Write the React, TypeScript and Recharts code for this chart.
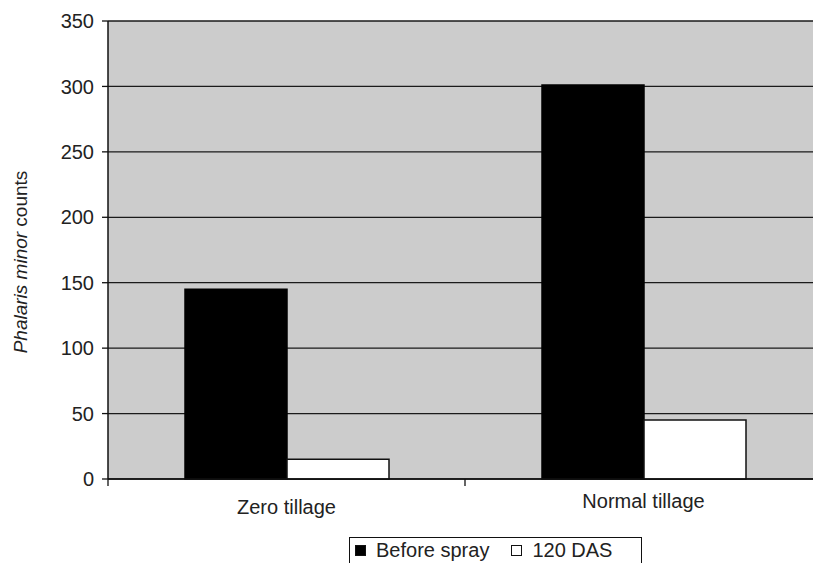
import { BarChart, Bar, XAxis, YAxis, CartesianGrid, Legend } from 'recharts';

const categories = ['Zero tillage', 'Normal tillage'];
const beforeSpray = [145, 301];
const das120 = [15, 45];
const yTicks = [0, 50, 100, 150, 200, 250, 300, 350];

const data = categories.map((name, i) => ({
  name,
  before: beforeSpray[i],
  das: das120[i],
}));

const FONT = '"Liberation Sans", Arial, sans-serif';

function CategoryTick(props: any) {
  const { x, y, payload, index } = props;
  const half = payload && payload.offset ? payload.offset : 0;
  // the original places the two labels at slightly different heights
  const labelY = y + (index === 0 ? 28 : 22);
  return (
    <g>
      <line x1={x - half} x2={x - half} y1={y} y2={y + 7} stroke="#111" strokeWidth={1.3} />
      <text
        x={x}
        y={labelY}
        textAnchor="middle"
        dominantBaseline="central"
        fontFamily={FONT}
        fontSize={20}
        fill="#222"
      >
        {payload.value}
      </text>
    </g>
  );
}

function YLabel(props: any) {
  const vb = props.viewBox || { x: 0, y: 0, width: 0, height: 0 };
  const cx = vb.x + 20;
  const cy = vb.y + vb.height / 2 + 12;
  return (
    <text
      x={cx}
      y={cy}
      transform={`rotate(-90, ${cx}, ${cy})`}
      textAnchor="middle"
      dominantBaseline="central"
      fontFamily={FONT}
      fontSize={19}
      fill="#222"
    >
      <tspan fontStyle="italic">Phalaris minor</tspan>
      <tspan> counts</tspan>
    </text>
  );
}

function LegendBox(props: any) {
  const { payload } = props;
  return (
    <div
      style={{
        border: '1.5px solid #111',
        padding: '1px 14px 8px 5px',
        display: 'flex',
        alignItems: 'center',
        fontFamily: FONT,
        fontSize: 20,
        lineHeight: '23px',
        color: '#222',
        background: '#fff',
        whiteSpace: 'nowrap',
        width: 293,
        boxSizing: 'border-box',
      }}
    >
      {(payload || []).map((entry: any, i: number) => (
        <span key={`leg-${i}`} style={{ display: 'flex', alignItems: 'center', marginRight: i === 0 ? 22 : 0 }}>
          <span
            style={{
              display: 'inline-block',
              flexShrink: 0,
              width: 11,
              height: 11,
              boxSizing: 'border-box',
              border: '1.3px solid #111',
              background: entry.color,
              marginRight: 10,
            }}
          />
          {entry.value}
        </span>
      ))}
    </div>
  );
}

export default function App() {
  return (
    <div style={{ position: 'fixed', left: 0, top: 0, width: 813, height: 563, overflow: 'hidden', background: '#fff' }}>
      <BarChart
        width={830}
        height={563}
        data={data}
        margin={{ top: 21, right: 8, left: 0, bottom: 0 }}
        barGap={0}
      >
        <CartesianGrid vertical={false} stroke="#1a1a1a" strokeWidth={1.3} fill="#cccccc" fillOpacity={1} />
        <XAxis
          dataKey="name"
          height={84}
          tickSize={0}
          tickMargin={0}
          tick={<CategoryTick />}
          axisLine={{ stroke: '#111', strokeWidth: 1.5 }}
          interval={0}
        />
        <YAxis
          width={108}
          domain={[0, 350]}
          ticks={yTicks}
          interval={0}
          tickSize={6}
          tickMargin={8}
          tickLine={{ stroke: '#111', strokeWidth: 1.3 }}
          axisLine={{ stroke: '#111', strokeWidth: 1.5 }}
          tick={{ fontFamily: FONT, fontSize: 20, fill: '#222' }}
          label={<YLabel />}
        />
        <Legend
          layout="horizontal"
          verticalAlign="middle"
          align="center"
          itemSorter="dataKey"
          wrapperStyle={{ left: 349, top: 537, width: 'auto' }}
          content={<LegendBox />}
        />
        <Bar dataKey="before" name="Before spray" fill="#000000" stroke="#000" strokeWidth={1.5} barSize={102} isAnimationActive={false} />
        <Bar dataKey="das" name="120 DAS" fill="#ffffff" stroke="#111" strokeWidth={1.5} barSize={102} isAnimationActive={false} />
      </BarChart>
    </div>
  );
}
